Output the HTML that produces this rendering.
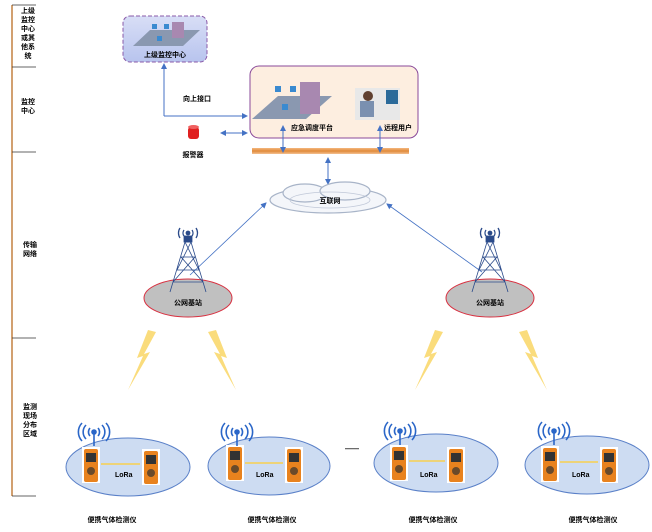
<!DOCTYPE html>
<html><head><meta charset="utf-8"><style>
html,body{margin:0;padding:0;background:#fff;width:652px;height:532px;overflow:hidden}
svg text{font-family:"Liberation Sans","Noto Sans CJK SC",sans-serif;font-weight:bold;font-size:7px;fill:#000}
</style></head><body>
<svg width="652" height="532" viewBox="0 0 652 532" xmlns="http://www.w3.org/2000/svg">
<defs>
<marker id="ar" markerWidth="6" markerHeight="6" refX="5" refY="3" orient="auto-start-reverse" markerUnits="userSpaceOnUse"><path d="M0,0 L6,3 L0,6 z" fill="#4472c4"/></marker>
<linearGradient id="gb" x1="0" y1="0" x2="0" y2="1"><stop offset="0" stop-color="#d8def6"/><stop offset="1" stop-color="#b8c4ee"/></linearGradient>
<linearGradient id="bar" x1="0" y1="0" x2="0" y2="1"><stop offset="0" stop-color="#f4b880"/><stop offset="0.5" stop-color="#e08a3a"/><stop offset="1" stop-color="#f4c090"/></linearGradient>
<g id="dev">
<rect x="0" y="0" width="18" height="36" fill="#fff"/>
<rect x="2" y="2" width="14" height="33" rx="2" fill="#e8821e"/>
<rect x="4" y="6" width="10" height="9" fill="#333"/>
<circle cx="9" cy="24" r="4" fill="#6a4a2a"/>
</g>
<g id="ant" fill="none" stroke="#2a66c8" stroke-width="1.6">
<path d="M-4,-4 a6,6 0 0,0 0,8 M4,-4 a6,6 0 0,1 0,8 M-8,-7 a10,10 0 0,0 0,14 M8,-7 a10,10 0 0,1 0,14 M-12,-9 a13,13 0 0,0 0,18 M12,-9 a13,13 0 0,1 0,18"/>
<circle cx="0" cy="0" r="2" fill="#2a66c8"/>
<line x1="0" y1="2" x2="0" y2="14"/>
</g>
<g id="bolt"><path d="M20,0 L9,28 L15,26 L0,60 L22,22 L16,24 L28,2 z" fill="#f8d050" opacity="0.75"/></g>
<g id="tower" stroke="#2a4a8a" stroke-width="0.8" fill="none">
<path d="M-3,10 L-18,60 M3,10 L18,60 M-3,10 L3,10 M-7,25 L7,25 M-11,38 L11,38 M-15,50 L15,50 M-3,10 L11,38 M3,10 L-11,38 M-7,25 L15,50 M7,25 L-15,50"/>
<rect x="-4" y="4" width="8" height="6" fill="#2a4a8a"/>
<path d="M-4,-2 a5,5 0 0,0 0,6 M4,-2 a5,5 0 0,1 0,6 M-8,-4 a9,9 0 0,0 0,10 M8,-4 a9,9 0 0,1 0,10" stroke-width="1.3"/>
<circle cx="0" cy="1" r="2" fill="#2a4a8a"/>
</g>
</defs>

<line x1="12" y1="5" x2="12" y2="496" stroke="#d2a070" stroke-width="2"/>
<g stroke="#333" stroke-width="0.8">
<line x1="12" y1="5" x2="36" y2="5"/><line x1="12" y1="67" x2="36" y2="67"/>
<line x1="12" y1="152" x2="36" y2="152"/><line x1="12" y1="338" x2="36" y2="338"/>
<line x1="12" y1="496" x2="36" y2="496"/>
</g>
<g text-anchor="middle">
<text x="28" y="13">上级</text><text x="28" y="22">监控</text><text x="28" y="31">中心</text><text x="28" y="40">或其</text><text x="28" y="49">他系</text><text x="28" y="58">统</text>
<text x="28" y="104">监控</text><text x="28" y="113">中心</text>
<text x="30" y="247">传输</text><text x="30" y="256">网络</text>
<text x="30" y="409">监测</text><text x="30" y="418">现场</text><text x="30" y="427">分布</text><text x="30" y="436">区域</text>
</g>

<rect x="123" y="16" width="84" height="46" rx="7" fill="url(#gb)" stroke="#8a5aa8" stroke-dasharray="4,2" stroke-width="1"/>
<path d="M133,46 L150,30 L200,30 L183,46 z" fill="#8a98b0"/>
<rect x="172" y="22" width="12" height="16" fill="#a888b0"/>
<rect x="152" y="24" width="5" height="5" fill="#3a8ad0"/><rect x="164" y="24" width="5" height="5" fill="#3a8ad0"/><rect x="157" y="36" width="5" height="5" fill="#3a8ad0"/>
<text x="165" y="57" text-anchor="middle">上级监控中心</text>

<rect x="250" y="66" width="168" height="72" rx="9" fill="#fdeee0" stroke="#8a4a9a" stroke-width="1"/>
<path d="M252,119 L278,96 L332,96 L306,119 z" fill="#8a98b0"/>
<rect x="300" y="82" width="20" height="32" fill="#a888b0"/>
<rect x="275" y="86" width="6" height="6" fill="#3a8ad0"/><rect x="290" y="86" width="6" height="6" fill="#3a8ad0"/><rect x="282" y="104" width="6" height="6" fill="#3a8ad0"/>
<rect x="355" y="88" width="45" height="32" fill="#e8e8e8"/>
<circle cx="368" cy="96" r="5" fill="#604030"/><rect x="360" y="101" width="14" height="16" fill="#7a90b0"/>
<rect x="386" y="90" width="12" height="14" fill="#2a6a9a"/>
<text x="312" y="130" text-anchor="middle">应急调度平台</text>
<text x="398" y="130" text-anchor="middle">远程用户</text>
<rect x="252" y="148" width="157" height="6" fill="url(#bar)"/>

<g stroke="#4472c4" stroke-width="1" fill="none">
<path d="M164,116 L164,64" marker-end="url(#ar)"/>
<path d="M164,116 L247,116" marker-end="url(#ar)"/>
<path d="M221,133 L247,133" marker-end="url(#ar)" marker-start="url(#ar)"/>
<path d="M283,126 L283,152" marker-end="url(#ar)" marker-start="url(#ar)"/>
<path d="M380,126 L380,152" marker-end="url(#ar)" marker-start="url(#ar)"/>
<path d="M328,158 L328,184" marker-end="url(#ar)" marker-start="url(#ar)"/>
<path d="M190,275 L266,203" marker-end="url(#ar)" stroke-width="0.8"/>
<path d="M482,272 L387,204" marker-end="url(#ar)" stroke-width="0.8"/>
</g>
<text x="197" y="101" text-anchor="middle">向上接口</text>
<rect x="188" y="127" width="11" height="12" rx="3" fill="#e02020"/>
<ellipse cx="193.5" cy="127" rx="5.5" ry="2" fill="#f06060"/>
<text x="193" y="157" text-anchor="middle">报警器</text>

<g fill="#f4f6fa" stroke="#a8b4c8" stroke-width="1.2">
<ellipse cx="328" cy="200" rx="58" ry="13"/>
<ellipse cx="305" cy="193" rx="22" ry="9"/><ellipse cx="345" cy="191" rx="25" ry="9"/>
</g>
<ellipse cx="330" cy="200" rx="40" ry="8" fill="none" stroke="#c0c8d8" stroke-width="0.8"/>
<text x="330" y="203" text-anchor="middle">互联网</text>

<ellipse cx="188" cy="298" rx="44" ry="19" fill="#c0c0c0" stroke="#d83040" stroke-width="1"/>
<use href="#tower" x="188" y="232"/>
<text x="188" y="305" text-anchor="middle">公网基站</text>
<ellipse cx="490" cy="298" rx="44" ry="19" fill="#c0c0c0" stroke="#d83040" stroke-width="1"/>
<use href="#tower" x="490" y="232"/>
<text x="490" y="305" text-anchor="middle">公网基站</text>

<use href="#bolt" x="128" y="330"/>
<use href="#bolt" transform="translate(236,330) scale(-1,1)"/>
<use href="#bolt" x="415" y="330"/>
<use href="#bolt" transform="translate(547,330) scale(-1,1)"/>

<g>
<ellipse cx="128" cy="467" rx="62" ry="29" fill="#cddcf2" stroke="#5a80c8"/>
<use href="#dev" x="82" y="447"/><use href="#dev" x="142" y="449"/>
<line x1="101" y1="464" x2="140" y2="464" stroke="#f8d050" stroke-width="1.5"/>
<text x="115" y="477">LoRa</text>
<use href="#ant" x="94" y="432"/>
</g>
<g>
<ellipse cx="269" cy="466" rx="61" ry="29" fill="#cddcf2" stroke="#5a80c8"/>
<use href="#dev" x="226" y="445"/><use href="#dev" x="285" y="447"/>
<line x1="245" y1="463" x2="283" y2="463" stroke="#f8d050" stroke-width="1.5"/>
<text x="256" y="477">LoRa</text>
<use href="#ant" x="237" y="432"/>
</g>
<text x="345" y="451">——</text>
<g>
<ellipse cx="436" cy="463" rx="62" ry="29" fill="#cddcf2" stroke="#5a80c8"/>
<use href="#dev" x="390" y="445"/><use href="#dev" x="447" y="447"/>
<line x1="409" y1="461" x2="445" y2="461" stroke="#f8d050" stroke-width="1.5"/>
<text x="420" y="477">LoRa</text>
<use href="#ant" x="400" y="431"/>
</g>
<g>
<ellipse cx="587" cy="465" rx="62" ry="29" fill="#cddcf2" stroke="#5a80c8"/>
<use href="#dev" x="541" y="446"/><use href="#dev" x="600" y="447"/>
<line x1="560" y1="462" x2="598" y2="462" stroke="#f8d050" stroke-width="1.5"/>
<text x="572" y="477">LoRa</text>
<use href="#ant" x="554" y="431"/>
</g>

<g text-anchor="middle">
<text x="112" y="522">便携气体检测仪</text>
<text x="272" y="522">便携气体检测仪</text>
<text x="433" y="522">便携气体检测仪</text>
<text x="593" y="522">便携气体检测仪</text>
</g>
</svg>
</body></html>
